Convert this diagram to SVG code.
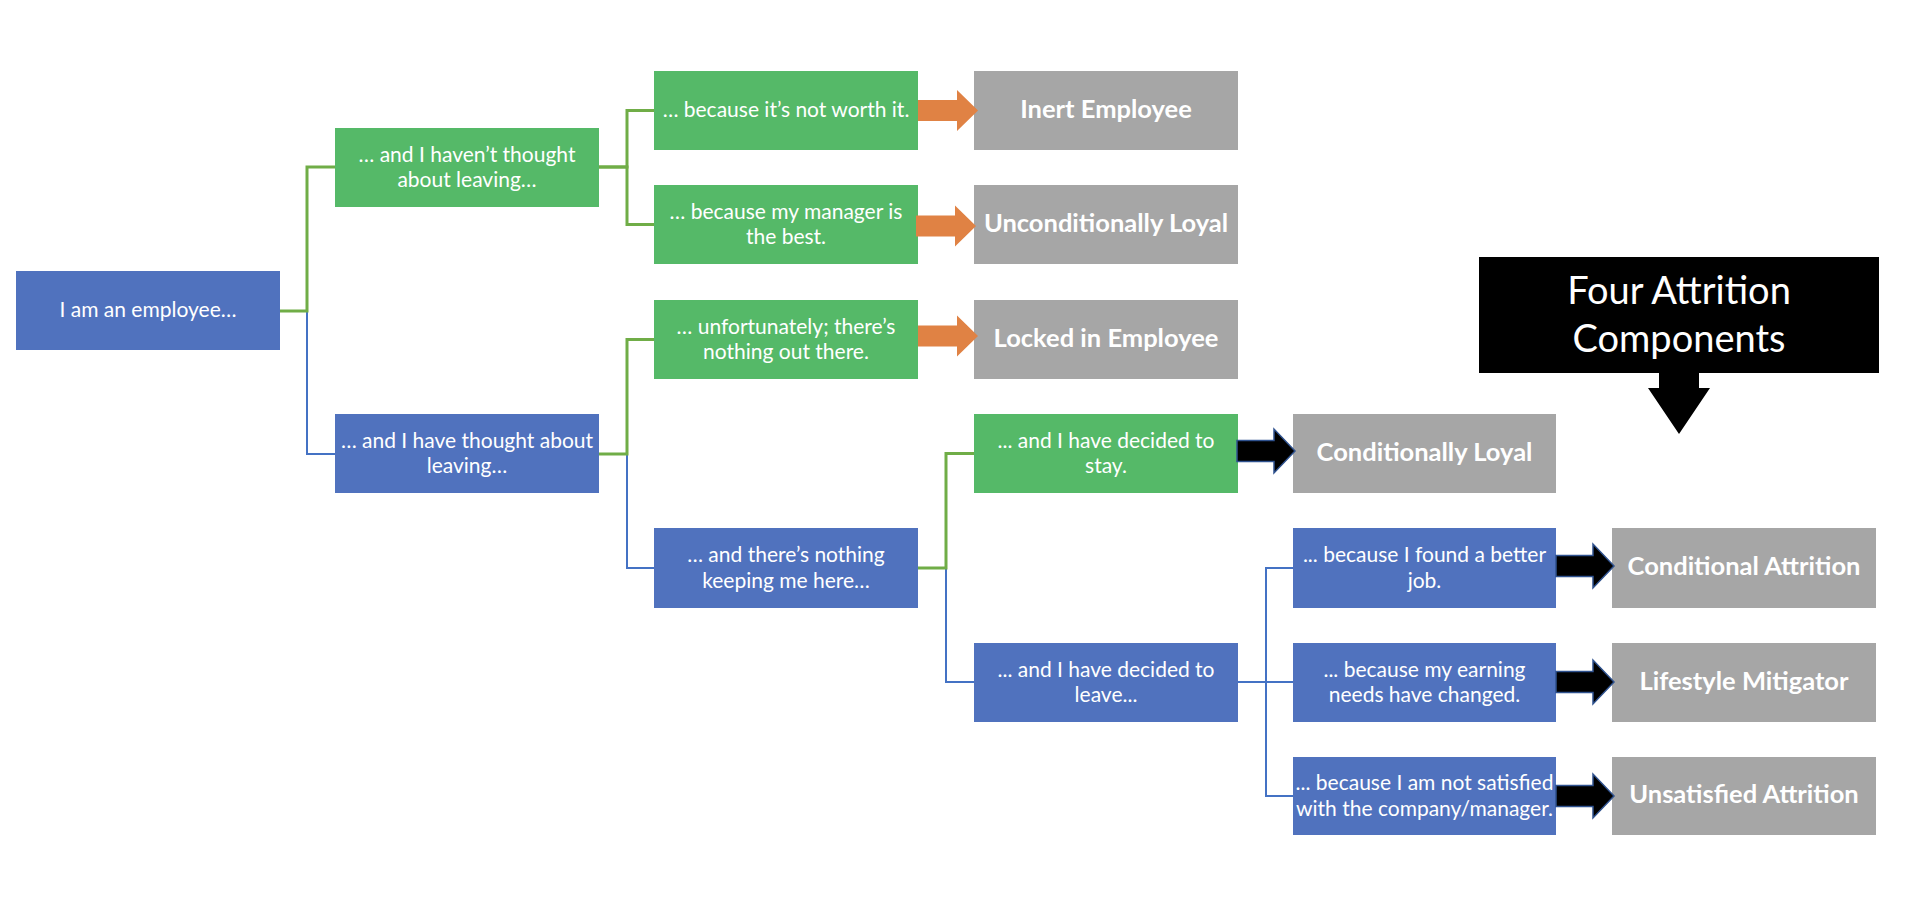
<svg xmlns="http://www.w3.org/2000/svg" width="1906" height="912" viewBox="0 0 1906 912">
<style>
.g{fill:#55B968}
.b{fill:#5072BE}
.y{fill:#A6A6A6}
.t{font-family:Lato,"Liberation Sans",sans-serif;font-size:21px;fill:#fff;text-anchor:middle;dominant-baseline:central}
.tb{font-family:Lato,"Liberation Sans",sans-serif;font-size:25.5px;font-weight:bold;fill:#fff;text-anchor:middle;dominant-baseline:central}
.tk{font-family:Lato,"Liberation Sans",sans-serif;font-size:38px;fill:#fff;text-anchor:middle;dominant-baseline:central}
.cg{fill:none;stroke:#70AD47;stroke-width:3}
.cb{fill:none;stroke:#4472C4;stroke-width:2}
.ao{fill:#E08244}
.ak{fill:#000;stroke:#2F528F;stroke-width:1.5}
</style>
<defs>
<polygon id="arrO" points="0,-10.5 39,-10.5 39,-20.5 60,0 39,20.5 39,10.5 0,10.5"/>
<polygon id="arrK" points="0,-10.5 37,-10.5 37,-22 58,0 37,22 37,10.5 0,10.5"/>
</defs>

<g id="connectors">
<path class="cb" d="M280 311H307V454H335"/>
<path class="cb" d="M599 454H627V568H654"/>
<path class="cb" d="M918 568H946V682H974"/>
<path class="cb" d="M1238 682H1266V568H1293"/>
<path class="cb" d="M1238 682H1293"/>
<path class="cb" d="M1238 682H1266V796H1293"/>
<path class="cg" d="M280 311H307V167H335"/>
<path class="cg" d="M599 167H627V110.5H654"/>
<path class="cg" d="M599 167H627V224.5H654"/>
<path class="cg" d="M599 454H627V339.5H654"/>
<path class="cg" d="M918 568H946V453.5H974"/>
</g>

<g id="n-root"><rect class="b" x="16" y="271" width="264" height="79"/><text class="t" x="148" y="308.5">I am an employee…</text></g>
<g id="n-havent"><rect class="g" x="335" y="128" width="264" height="79"/><text class="t" x="467" y="153">… and I haven’t thought</text><text class="t" x="467" y="178.5">about leaving…</text></g>
<g id="n-have"><rect class="b" x="335" y="414" width="264" height="79"/><text class="t" x="467" y="439">… and I have thought about</text><text class="t" x="467" y="464.5">leaving…</text></g>

<g id="n-notworth"><rect class="g" x="654" y="71" width="264" height="79"/><text class="t" x="786" y="108.5">… because it’s not worth it.</text></g>
<g id="n-manager"><rect class="g" x="654" y="185" width="264" height="79"/><text class="t" x="786" y="210">… because my manager is</text><text class="t" x="786" y="235.5">the best.</text></g>
<g id="n-unfort"><rect class="g" x="654" y="300" width="264" height="79"/><text class="t" x="786" y="325">… unfortunately; there’s</text><text class="t" x="786" y="350.5">nothing out there.</text></g>
<g id="n-nothing"><rect class="b" x="654" y="528" width="264" height="80"/><text class="t" x="786" y="553.5">… and there’s nothing</text><text class="t" x="786" y="579">keeping me here…</text></g>

<g id="n-inert"><rect class="y" x="974" y="71" width="264" height="79"/><text class="tb" x="1106" y="107.5">Inert Employee</text></g>
<g id="n-uncond"><rect class="y" x="974" y="185" width="264" height="79"/><text class="tb" x="1106" y="221.5">Unconditionally Loyal</text></g>
<g id="n-locked"><rect class="y" x="974" y="300" width="264" height="79"/><text class="tb" x="1106" y="336.5">Locked in Employee</text></g>
<g id="n-stay"><rect class="g" x="974" y="414" width="264" height="79"/><text class="t" x="1106" y="439">... and I have decided to</text><text class="t" x="1106" y="464.5">stay.</text></g>
<g id="n-leave"><rect class="b" x="974" y="643" width="264" height="79"/><text class="t" x="1106" y="668">... and I have decided to</text><text class="t" x="1106" y="693.5">leave...</text></g>

<g id="n-condloyal"><rect class="y" x="1293" y="414" width="263" height="79"/><text class="tb" x="1424.5" y="450.5">Conditionally Loyal</text></g>
<g id="n-better"><rect class="b" x="1293" y="528" width="263" height="80"/><text class="t" x="1424.5" y="553.5">... because I found a better</text><text class="t" x="1424.5" y="579">job.</text></g>
<g id="n-earning"><rect class="b" x="1293" y="643" width="263" height="79"/><text class="t" x="1424.5" y="668">... because my earning</text><text class="t" x="1424.5" y="693.5">needs have changed.</text></g>
<g id="n-unsat"><rect class="b" x="1293" y="757" width="263" height="78"/><text class="t" x="1424.5" y="781.5">... because I am not satisfied</text><text class="t" x="1424.5" y="807">with the company/manager.</text></g>

<g id="n-condattr"><rect class="y" x="1612" y="528" width="264" height="80"/><text class="tb" x="1744" y="565">Conditional Attrition</text></g>
<g id="n-lifestyle"><rect class="y" x="1612" y="643" width="264" height="79"/><text class="tb" x="1744" y="679.5">Lifestyle Mitigator</text></g>
<g id="n-unsatattr"><rect class="y" x="1612" y="757" width="264" height="78"/><text class="tb" x="1744" y="793">Unsatisfied Attrition</text></g>

<g id="arrows">
<use href="#arrO" class="ao" transform="translate(918,110.5)"/>
<use href="#arrO" class="ao" transform="translate(916,226)"/>
<use href="#arrO" class="ao" transform="translate(918,336)"/>
<use href="#arrK" class="ak" transform="translate(1237,451)"/>
<use href="#arrK" class="ak" transform="translate(1556,566)"/>
<use href="#arrK" class="ak" transform="translate(1556,682)"/>
<use href="#arrK" class="ak" transform="translate(1556,796)"/>
</g>

<g id="n-callout">
<polygon fill="#000" points="1479,257 1879,257 1879,373 1699,373 1699,388 1710,388 1679,434 1648,388 1659,388 1659,373 1479,373"/>
<text class="tk" x="1679" y="289">Four Attrition</text>
<text class="tk" x="1679" y="337">Components</text>
</g>
</svg>
